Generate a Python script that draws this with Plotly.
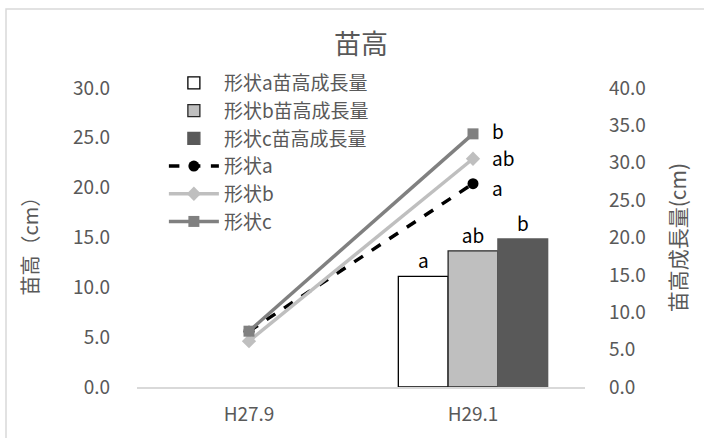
import plotly.graph_objects as go

categories = ["H27.9", "H29.1"]
# 苗高 (cm), left axis
height_a = [5.6, 20.4]
height_b = [4.6, 22.9]
height_c = [5.6, 25.4]
# 苗高成長量 (cm), right axis (bars only at H29.1)
growth_a = [None, 14.8]
growth_b = [None, 18.2]
growth_c = [None, 19.8]
growth_labels = ["a", "ab", "b"]
height_labels = ["a", "ab", "b"]

FONT = "Noto Sans CJK JP"
GRAY_TXT = "#595959"

fig = go.Figure()

bar_specs = [
    ("形状a苗高成長量", growth_a, "#FFFFFF", "#000000", growth_labels[0]),
    ("形状b苗高成長量", growth_b, "#BFBFBF", "#262626", growth_labels[1]),
    ("形状c苗高成長量", growth_c, "#595959", "#595959", growth_labels[2]),
]
for name, vals, fill, edge, lab in bar_specs:
    fig.add_trace(go.Bar(
        x=categories, y=vals, name=name, yaxis="y",
        marker=dict(color=fill, line=dict(color=edge, width=1.3)),
        text=["" if v is None else lab for v in vals],
        textposition="outside", cliponaxis=False,
        textfont=dict(family=FONT, size=19, color="#000000"),
    ))

line_specs = [
    ("形状a", height_a, "#000000", "circle", "dash", 3.5),
    ("形状b", height_b, "#BFBFBF", "diamond", "solid", 3.5),
    ("形状c", height_c, "#808080", "square", "solid", 3.5),
]
for name, vals, col, sym, dash, w in line_specs:
    fig.add_trace(go.Scatter(
        x=categories, y=vals, name=name, yaxis="y2", mode="lines+markers",
        line=dict(color=col, width=w, dash=dash),
        marker=dict(symbol=sym, size=11, color=col),
    ))

label_yshift = [-4, 1, 3]
annotations = []
for (name, vals, col, sym, dash, w), lab, ys in zip(line_specs, height_labels, label_yshift):
    annotations.append(dict(
        x=categories[1], y=vals[1], xref="x", yref="y2", text=lab,
        showarrow=False, xanchor="left", xshift=17, yshift=ys,
        font=dict(family=FONT, size=19, color="#000000"),
    ))

annotations.append(dict(x=-0.239, y=0.49, xref="paper", yref="paper",
                        xanchor="center", yanchor="middle",
                        text="苗高（cm）", textangle=-90, showarrow=False,
                        font=dict(family=FONT, size=20, color=GRAY_TXT)))
annotations.append(dict(x=1.205, y=0.5, xref="paper", yref="paper",
                        xanchor="center", yanchor="middle",
                        text="苗高成長量(cm)", textangle=-90, showarrow=False,
                        font=dict(family=FONT, size=21, color=GRAY_TXT)))

fig.update_layout(
    width=704, height=438,
    margin=dict(l=137, r=119, t=88, b=51),
    paper_bgcolor="white", plot_bgcolor="white",
    font=dict(family=FONT, size=19, color=GRAY_TXT),
    title=dict(text="苗高", x=0.5, xref="paper", xanchor="center",
               y=1 - 45 / 438, yanchor="middle",
               font=dict(family=FONT, size=27, color=GRAY_TXT)),
    barmode="group", bargap=1/3, bargroupgap=0,
    showlegend=True,
    legend=dict(x=0.060, y=1.080, xanchor="left", yanchor="top",
                bgcolor="rgba(0,0,0,0)", traceorder="normal",
                font=dict(family=FONT, size=19, color=GRAY_TXT),
                itemwidth=50, tracegroupgap=0),
    xaxis=dict(type="category", categoryorder="array", categoryarray=categories,
               showgrid=False, showline=True, linecolor="#D9D9D9", linewidth=2,
               ticks="", ticklabelstandoff=9, zeroline=False,
               tickfont=dict(family=FONT, size=19, color=GRAY_TXT)),
    yaxis=dict(side="right", range=[0, 40], dtick=5, tickformat=".1f",
               showgrid=False, zeroline=False, showline=False, ticks="",
               ticklabelstandoff=23,
               tickfont=dict(family=FONT, size=19, color=GRAY_TXT)),
    yaxis2=dict(side="left", overlaying="y", range=[0, 30], dtick=5, tickformat=".1f",
                showgrid=False, zeroline=False, showline=False, ticks="",
                ticklabelstandoff=26,
                tickfont=dict(family=FONT, size=19, color=GRAY_TXT)),
    annotations=annotations,
    shapes=[dict(type="rect", xref="paper", yref="paper",
                 x0=-0.2924, x1=1.3, y0=-0.2, y1=1.264,
                 line=dict(color="#D9D9D9", width=1.5), fillcolor="rgba(0,0,0,0)",
                 layer="below")],
)

fig.write_html("out.html", config={"displayModeBar": False},
               post_script="document.body.style.margin='0';")
